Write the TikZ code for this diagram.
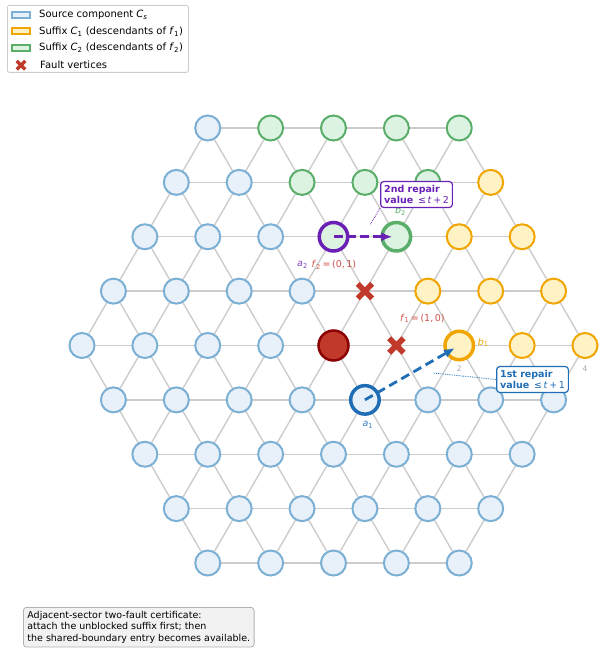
\documentclass[tikz,border=0pt]{standalone}
\usepackage{fontspec}
\setmainfont{DejaVu Sans}
\usetikzlibrary{positioning,calc,arrows.meta,shapes.misc,backgrounds}

\definecolor{srcfill}{HTML}{E8F1FA}
\definecolor{srcline}{HTML}{7BAFD4}
\definecolor{onefill}{HTML}{FFF3C6}
\definecolor{oneline}{HTML}{F0A500}
\definecolor{twofill}{HTML}{DDF3E2}
\definecolor{twoline}{HTML}{5AAE6A}
\definecolor{rootfill}{HTML}{C0392B}
\definecolor{rootline}{HTML}{8B0000}
\definecolor{faultred}{HTML}{C0392B}
\definecolor{repblue}{HTML}{1F6DB5}
\definecolor{reppurple}{HTML}{6A1FB5}
\definecolor{edgegray}{HTML}{CCCCCC}
\definecolor{labred}{HTML}{D0544A}
\definecolor{labpurple}{HTML}{8145C4}
\definecolor{labblue}{HTML}{3A80C2}

\begin{document}
\begin{tikzpicture}[
    x=1pt, y=-1pt,
    vtx/.style={circle, draw, line width=2pt, minimum size=25pt, inner sep=0pt},
    srcv/.style={vtx, draw=srcline, fill=srcfill},
    sufa/.style={vtx, draw=oneline, fill=onefill},
    sufb/.style={vtx, draw=twoline, fill=twofill},
    rootv/.style={vtx, draw=rootline, fill=rootfill, line width=2.5pt, minimum size=30pt},
    faultv/.style={cross out, draw=faultred, line width=5.5pt, minimum size=9pt, inner sep=0pt},
    hl/.style={line width=3.5pt, minimum size=28.5pt},
    av1/.style={srcv, hl, draw=repblue, alias=a1},
    av2/.style={sufb, hl, draw=reppurple, alias=a2},
    bv1/.style={sufa, hl, alias=b1},
    bv2/.style={sufb, hl, alias=b2},
    fv1/.style={faultv, alias=f1},
    fv2/.style={faultv, alias=f2},
    rv/.style={rootv, alias=root},
    edge/.style={edgegray, line width=1.4pt},
    vlab/.style={font=\fontsize{9.5}{11}\selectfont, inner sep=0pt},
    dist/.style={font=\fontsize{7.5}{8}\selectfont, text=gray!70, inner sep=0pt},
    repone/.style={-{Latex[length=11pt,width=9pt]}, repblue, line width=2.8pt, dash pattern=on 9pt off 5pt, shorten >=5pt},
    reptwo/.style={-{Latex[length=11pt,width=9pt]}, reppurple, line width=2.8pt, dash pattern=on 9pt off 4pt, shorten >=4pt},
    callout/.style={rectangle, draw, fill=white, line width=1.2pt, rounded corners=3pt, align=left, inner sep=3.5pt, font=\fontsize{9.5}{11.5}\selectfont\bfseries},
    pointer/.style={line width=0.8pt, densely dotted},
    legbox/.style={rectangle, draw=gray!40, fill=white, line width=0.8pt, rounded corners=2pt, minimum width=181pt, minimum height=67pt},
    legpatch/.style={rectangle, line width=2pt, minimum width=18pt, minimum height=6pt, inner sep=0pt},
    legtext/.style={font=\fontsize{10}{12}\selectfont, inner sep=0pt, anchor=west},
    capbox/.style={rectangle, draw=gray!60, fill=gray!10, line width=0.8pt, rounded corners=3pt, align=left, inner sep=4pt, font=\fontsize{9.5}{11.2}\selectfont}
]
\useasboundingbox (0,0) rectangle (606,655);

\foreach \j in {0,...,8}
  \foreach \i in {0,...,8} {
    \pgfmathtruncatemacro\s{\i+\j}
    \pgfmathtruncatemacro\id{10*\i+\j}
    \ifnum\s>3 \ifnum\s<13
      \def\kind{srcv}
      \ifnum\j<5 \ifnum\i>4
        \ifnum\s<9 \def\kind{sufb}\else\def\kind{sufa}\fi
      \fi\fi
      \ifnum\id=44 \def\kind{rv}\fi
      \ifnum\id=45 \def\kind{av1}\fi
      \ifnum\id=52 \def\kind{av2}\fi
      \ifnum\id=53 \def\kind{fv2}\fi
      \ifnum\id=54 \def\kind{fv1}\fi
      \ifnum\id=62 \def\kind{bv2}\fi
      \ifnum\id=64 \def\kind{bv1}\fi
      \node[\kind] (v\i-\j) at ({333.5+62.875*(\i-4+(\j-4)/2)}, {345.5+54.375*(\j-4)}) {};
    \fi\fi
  }

\begin{pgfonlayer}{background}
  \foreach \k in {0,...,8} {
    \pgfmathtruncatemacro\klo{max(0,4-\k)}
    \pgfmathtruncatemacro\khi{min(8,12-\k)}
    \draw[edge] (v\klo-\k) -- (v\khi-\k);
    \draw[edge] (v\k-\klo) -- (v\k-\khi);
  }
  \foreach \d in {4,...,12} {
    \pgfmathtruncatemacro\jlo{max(0,\d-8)}
    \pgfmathtruncatemacro\jhi{min(8,\d)}
    \pgfmathtruncatemacro\ilo{\d-\jlo}
    \pgfmathtruncatemacro\ihi{\d-\jhi}
    \draw[edge] (v\ilo-\jlo) -- (v\ihi-\jhi);
  }
\end{pgfonlayer}

\node[vlab, text=labpurple] (a2lab) at ($(a2)+(-31,28)$) {\textit{a}\textsubscript{2}};
\node[vlab, text=labred] (f2lab) at ($(f2)+(-31,-26)$) {\textit{f}\textsubscript{2}\,=\,(0,\,1)};
\node[vlab, text=labred] (f1lab) at ($(f1)+(26,-27)$) {\textit{f}\textsubscript{1}\,=\,(1,\,0)};
\node[vlab, text=twoline] (b2lab) at ($(b2)+(4,-26)$) {\textit{b}\textsubscript{2}};
\node[vlab, text=oneline] (b1lab) at ($(b1)+(24,-3)$) {\textit{b}\textsubscript{1}};
\node[vlab, text=labblue] (a1lab) at ($(a1)+(3,25)$) {\textit{a}\textsubscript{1}};
\node[dist] (d2) at ($(b1)+(0,23)$) {2};
\node[dist] (d4) at ($(v8-4)+(0,23)$) {4};

\draw[repone] (a1.center) -- (b1.center);
\draw[reptwo] (a2.center) -- (b2.center);

\node[callout, draw=reppurple, text=reppurple] (rep2) at (416.5,194.5) {2nd repair\\value \,{\mdseries ≤\,\textit{t}\,+\,2}};
\node[callout, draw=repblue, text=repblue] (rep1) at (532.5,379.5) {1st repair\\value \,{\mdseries ≤\,\textit{t}\,+\,1}};
\coordinate (p2) at (370,225);
\coordinate (p1) at (433,373);
\draw[pointer, reppurple] (rep2.south west) -- (p2);
\draw[pointer, repblue] (rep1.west) -- (p1);

\node[legbox, anchor=north west] (legend) at (7,5) {};
\node[legpatch, draw=srcline, fill=srcfill] (kcs) at (21,15) {};
\node[legpatch, draw=oneline, fill=onefill, below=8.5pt of kcs] (kc1) {};
\node[legpatch, draw=twoline, fill=twofill, below=8.5pt of kc1] (kc2) {};
\node[faultv, line width=3.5pt, minimum size=5pt, below=9pt of kc2] (kfv) {};
\node[legtext, right=8pt of kcs] {Source component \textit{C}\textsubscript{\textit{s}}};
\node[legtext, right=8pt of kc1] {Suffix \textit{C}\textsubscript{1} (descendants of \textit{f}\textsubscript{1})};
\node[legtext, right=8pt of kc2] {Suffix \textit{C}\textsubscript{2} (descendants of \textit{f}\textsubscript{2})};
\node[legtext] at (kc2.west |- kfv) [xshift=29pt] {Fault vertices};

\node[capbox, anchor=north west] (caption) at (23,607) {Adjacent-sector two-fault certificate:\\attach the unblocked suffix first; then\\the shared-boundary entry becomes available.};
\end{tikzpicture}
\end{document}
